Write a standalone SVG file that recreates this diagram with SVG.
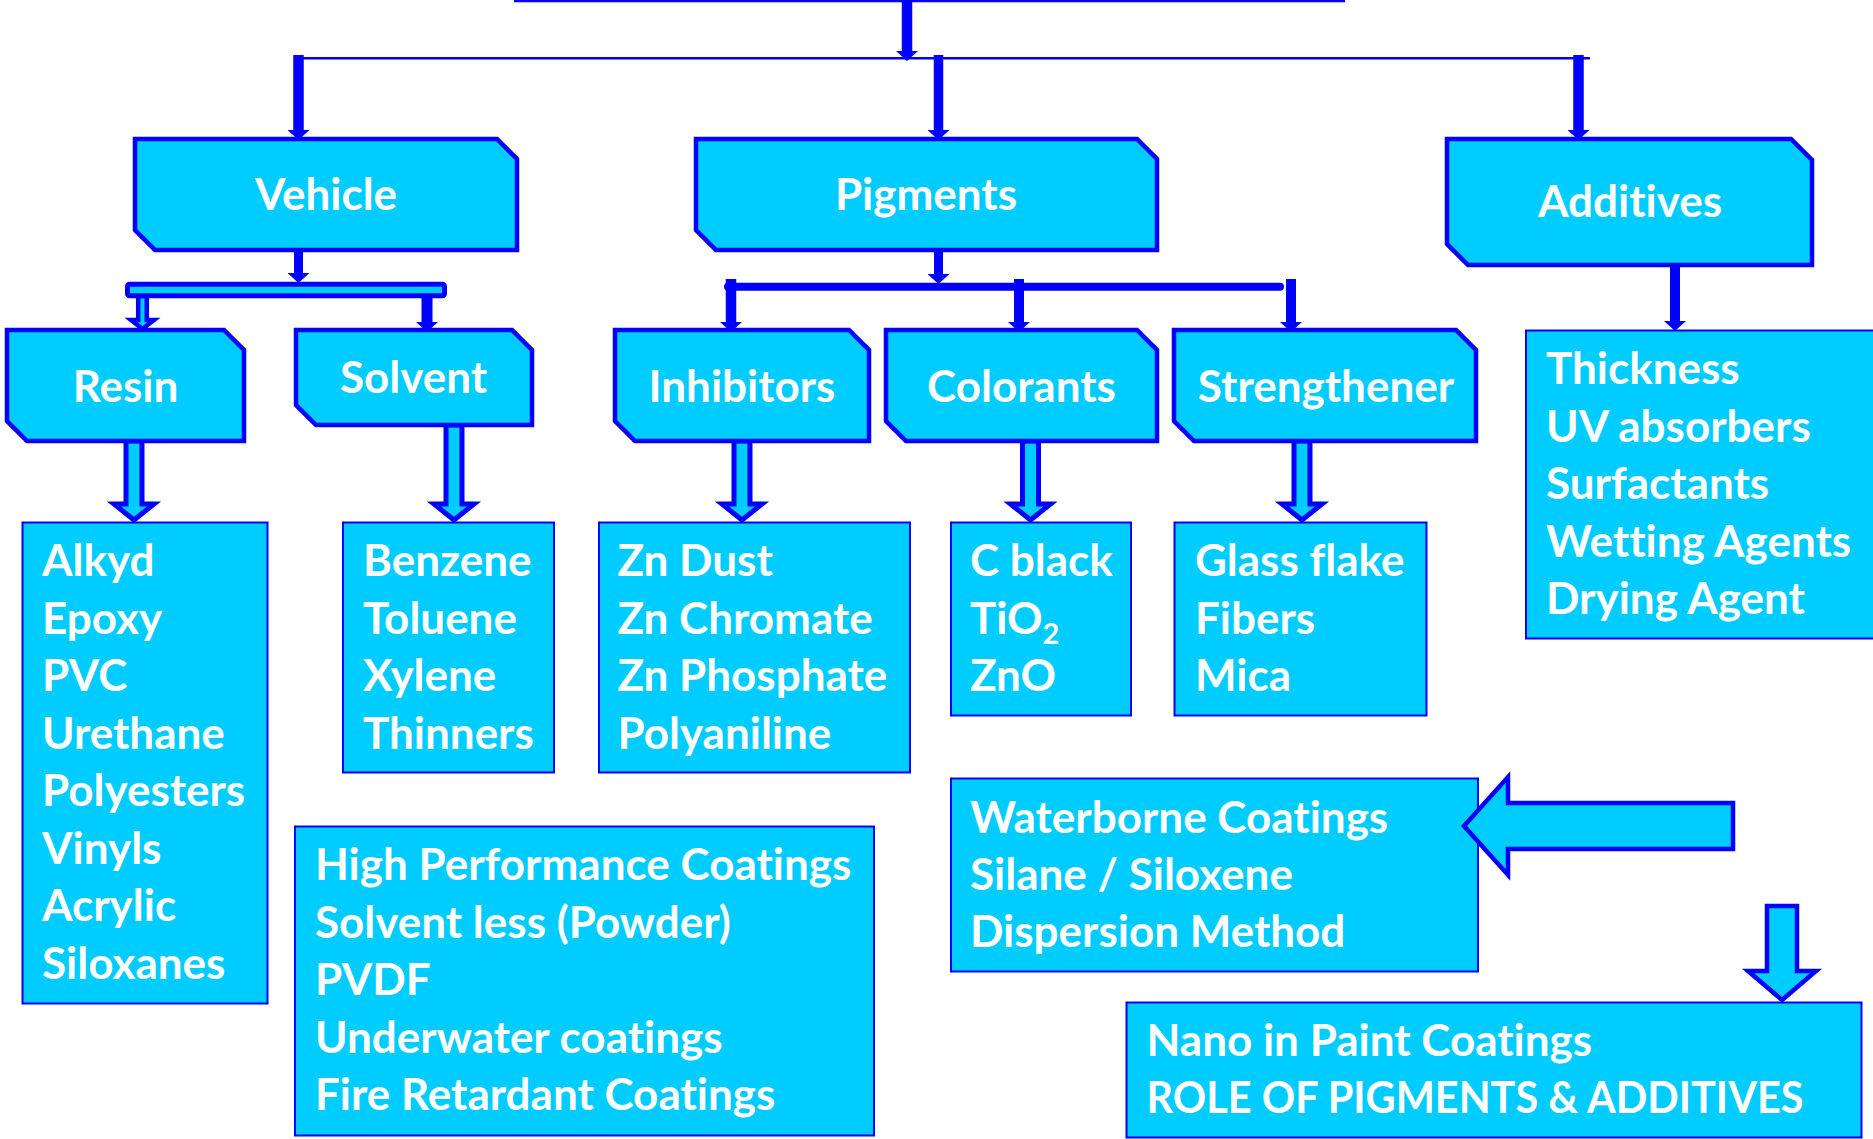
<svg xmlns="http://www.w3.org/2000/svg" width="1873" height="1139" viewBox="0 0 1873 1139">
  <defs>
    <style>
      .hdr{fill:#00CCFF;stroke:#0000FF;stroke-width:4.5;stroke-linejoin:miter}
      .box{fill:#00CCFF;stroke:#0000FF;stroke-width:2}
      .blk{fill:#00CCFF;stroke:#0000FF;stroke-width:5;stroke-linejoin:miter}
      .thin{fill:#00CCFF;stroke:#0000FF;stroke-width:4.5;stroke-linejoin:miter}
      .ln{stroke:#0000FF;fill:none}
      .wire{stroke:#0000FF;stroke-width:2.5;fill:none}
      text{font-family:Lato,'Open Sans','Liberation Sans',sans-serif;font-weight:700;font-size:44px;fill:#FFFFFF;font-variant-ligatures:none}
      .c{text-anchor:middle}
      .sub{font-size:29px}
    </style>
    <!-- small solid arrowhead placed at the end of thick feeder lines -->
    <marker id="head" viewBox="0 0 10 22" refX="0" refY="11" markerWidth="10" markerHeight="22" markerUnits="userSpaceOnUse" orient="auto">
      <path d="M0,0 L10,11 L0,22 z" fill="#0000FF"/>
    </marker>
  </defs>

  <rect width="1873" height="1139" fill="#FFFFFF"/>

  <!-- connectors -->
  <g id="connectors">
    <line class="wire" x1="514" y1="1" x2="1345" y2="1"/>
    <line class="wire" x1="298" y1="58.3" x2="1590" y2="58.3"/>
    <line class="ln" stroke-width="10.5" x1="907" y1="0" x2="907" y2="51" marker-end="url(#head)"/>
    <line class="ln" stroke-width="10.5" x1="298.5" y1="55" x2="298.5" y2="130" marker-end="url(#head)"/>
    <line class="ln" stroke-width="9.5" x1="938.5" y1="55" x2="938.5" y2="130" marker-end="url(#head)"/>
    <line class="ln" stroke-width="10.5" x1="1578.5" y1="55" x2="1578.5" y2="130" marker-end="url(#head)"/>

    <!-- Vehicle split -->
    <line class="ln" stroke-width="9" x1="298.5" y1="252" x2="298.5" y2="273" marker-end="url(#head)"/>
    <polygon class="thin" points="138.2,296 146.8,296 146.8,320 154,320 142.5,329 131,320 138.2,320"/>
    <rect x="127.5" y="284.2" width="317" height="11.6" rx="2" fill="#00CCFF" stroke="#0000FF" stroke-width="5"/>
    <line class="ln" stroke-width="11" x1="427" y1="298" x2="427" y2="322" marker-end="url(#head)"/>

    <!-- Pigments split -->
    <line class="ln" stroke-width="9" x1="938.5" y1="252" x2="938.5" y2="274" marker-end="url(#head)"/>
    <line class="ln" stroke-width="8" stroke-linecap="round" x1="728" y1="286.7" x2="1280" y2="286.7"/>
    <line class="ln" stroke-width="10.5" x1="731" y1="279" x2="731" y2="322" marker-end="url(#head)"/>
    <line class="ln" stroke-width="10" x1="1019" y1="279" x2="1019" y2="322" marker-end="url(#head)"/>
    <line class="ln" stroke-width="10" x1="1291" y1="279" x2="1291" y2="322" marker-end="url(#head)"/>

    <!-- Additives feeder -->
    <line class="ln" stroke-width="10" x1="1675" y1="267" x2="1675" y2="321" marker-end="url(#head)"/>

    <!-- hollow block arrows into the lists -->
    <polygon class="blk" points="126,441 142,441 142,504 154,504 134,520 114,504 126,504"/>
    <polygon class="blk" points="446,425 462,425 462,504 474,504 454,520 434,504 446,504"/>
    <polygon class="blk" points="734,441 750,441 750,504 762,504 742,520 722,504 734,504"/>
    <polygon class="blk" points="1022.5,441 1038.5,441 1038.5,504 1050.5,504 1030.5,520 1010.5,504 1022.5,504"/>
    <polygon class="blk" points="1294,441 1310,441 1310,504 1322,504 1302,520 1282,504 1294,504"/>
  </g>

  <!-- top level -->
  <g id="vehicle">
    <polygon class="hdr" points="135,139 497,139 517,159 517,250 155,250 135,230"/>
    <text class="c" x="326" y="210">Vehicle</text>
  </g>
  <g id="pigments">
    <polygon class="hdr" points="696,139 1137,139 1157,159 1157,250 716,250 696,230"/>
    <text class="c" x="926" y="210">Pigments</text>
  </g>
  <g id="additives">
    <polygon class="hdr" points="1447,139 1791,139 1812,160 1812,265 1468,265 1447,244"/>
    <text class="c" x="1630" y="217">Additives</text>
  </g>

  <!-- second level -->
  <g id="resin">
    <polygon class="hdr" points="7,330 224,330 244,350 244,441 27,441 7,421"/>
    <text class="c" x="125.5" y="402">Resin</text>
  </g>
  <g id="solvent">
    <polygon class="hdr" points="296,330 512,330 532,350 532,425 316,425 296,405"/>
    <text class="c" x="413.5" y="393">Solvent</text>
  </g>
  <g id="inhibitors">
    <polygon class="hdr" points="615,330 849,330 869,350 869,441 635,441 615,421"/>
    <text class="c" x="742" y="402">Inhibitors</text>
  </g>
  <g id="colorants">
    <polygon class="hdr" points="886,330 1137,330 1157,350 1157,441 906,441 886,421"/>
    <text class="c" x="1021.5" y="402">Colorants</text>
  </g>
  <g id="strengthener">
    <polygon class="hdr" points="1174,330 1456,330 1476,350 1476,441 1194,441 1174,421"/>
    <text class="c" x="1326" y="402">Strengthener</text>
  </g>

  <!-- lists -->
  <g id="resin-list">
    <rect class="box" x="22.5" y="522.5" width="245" height="481"/>
    <text x="42" y="576">Alkyd</text>
    <text x="42" y="633.5">Epoxy</text>
    <text x="42" y="691">PVC</text>
    <text x="42" y="748.5">Urethane</text>
    <text x="42" y="806">Polyesters</text>
    <text x="42" y="863.5">Vinyls</text>
    <text x="42" y="921">Acrylic</text>
    <text x="42" y="978.5">Siloxanes</text>
  </g>
  <g id="solvent-list">
    <rect class="box" x="343" y="522.5" width="211" height="250"/>
    <text x="363" y="576">Benzene</text>
    <text x="363" y="633.5">Toluene</text>
    <text x="363" y="691">Xylene</text>
    <text x="363" y="748.5">Thinners</text>
  </g>
  <g id="inhibitors-list">
    <rect class="box" x="599" y="522.5" width="311" height="250"/>
    <text x="617.5" y="576">Zn Dust</text>
    <text x="617.5" y="633.5">Zn Chromate</text>
    <text x="617.5" y="691">Zn Phosphate</text>
    <text x="617.5" y="748.5">Polyaniline</text>
  </g>
  <g id="colorants-list">
    <rect class="box" x="951" y="522.5" width="180" height="193"/>
    <text x="970" y="576">C black</text>
    <text x="970" y="633.5">TiO<tspan class="sub" dy="10">2</tspan></text>
    <text x="970" y="691">ZnO</text>
  </g>
  <g id="strengthener-list">
    <rect class="box" x="1174.5" y="522.5" width="252" height="193"/>
    <text x="1195" y="576">Glass flake</text>
    <text x="1195" y="633.5">Fibers</text>
    <text x="1195" y="691">Mica</text>
  </g>
  <g id="additives-list">
    <rect class="box" x="1526" y="330.5" width="360" height="308"/>
    <text x="1546" y="384">Thickness</text>
    <text x="1546" y="441.5">UV absorbers</text>
    <text x="1546" y="499">Surfactants</text>
    <text x="1546" y="556.5">Wetting Agents</text>
    <text x="1546" y="614">Drying Agent</text>
  </g>
  <g id="coatings">
    <rect class="box" x="295" y="826.5" width="579" height="309"/>
    <text x="315" y="880">High Performance Coatings</text>
    <text x="315" y="937.5">Solvent less (Powder)</text>
    <text x="315" y="995">PVDF</text>
    <text x="315" y="1052.5">Underwater coatings</text>
    <text x="315" y="1110">Fire Retardant Coatings</text>
  </g>
  <g id="waterborne">
    <rect class="box" x="951" y="778.5" width="527" height="193"/>
    <text x="970" y="832.7">Waterborne Coatings</text>
    <text x="970" y="890">Silane / Siloxene</text>
    <text x="970" y="947">Dispersion Method</text>
  </g>
  <g id="nano">
    <rect class="box" x="1126.5" y="1002.5" width="735" height="135"/>
    <text x="1146.5" y="1056">Nano in Paint Coatings</text>
    <text x="1146.5" y="1113" textLength="657" lengthAdjust="spacingAndGlyphs">ROLE OF PIGMENTS &amp; ADDITIVES</text>
  </g>

  <!-- block arrows on the lower right -->
  <g id="arrow-left">
    <polygon class="thin" points="1464,826 1508,777 1508,803 1733,803 1733,849 1508,849 1508,875"/>
  </g>
  <g id="arrow-down">
    <polygon class="thin" points="1767,906 1797,906 1797,971 1816,971 1782,1000 1748,971 1767,971"/>
  </g>
</svg>
